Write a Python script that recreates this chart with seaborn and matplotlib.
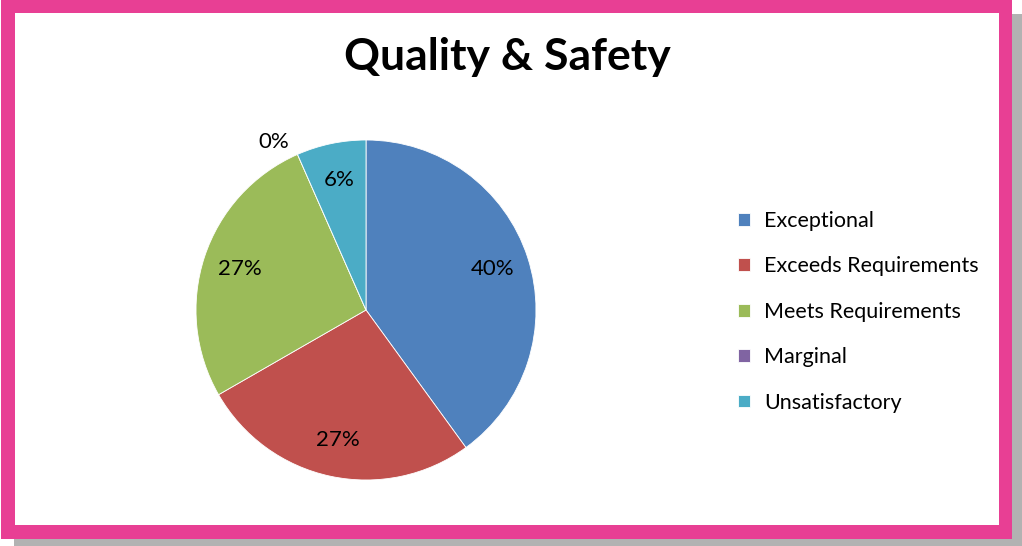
import matplotlib
matplotlib.use("Agg")
import matplotlib.pyplot as plt
import matplotlib.patches as mpatches
import numpy as np
import seaborn as sns

# Quality & Safety rating shares (percent of staff)
categories = ["Exceptional", "Exceeds Requirements", "Meets Requirements",
              "Marginal", "Unsatisfactory"]
shares = [40, 26.7, 26.7, 0, 6.6]
pct_labels = ["40%", "27%", "27%", "0%", "6%"]
colors = ["#4F81BD", "#C0504D", "#9BBB59", "#8064A2", "#4BACC6"]

W, H = 1022, 546


def fx(px):
    return px / W


def fy(py):
    return (H - py) / H


def frame_rect(fig, x0, y0, x1, y1, color, z):
    # rectangle given in pixel coords (origin top left)
    r = mpatches.Rectangle((fx(x0), fy(y1)), fx(x1) - fx(x0), fy(y0) - fy(y1),
                           transform=fig.transFigure, facecolor=color,
                           edgecolor="none", zorder=z)
    fig.patches.append(r)


def main():
    sns.set_theme(style="white")
    plt.rcParams["font.family"] = ["Lato", "DejaVu Sans"]
    plt.rcParams["text.color"] = "black"
    palette = sns.color_palette(colors)

    fig = plt.figure(figsize=(W / 100, H / 100), dpi=100)
    fig.patch.set_facecolor("white")

    # border: grey shadow, pink frame, white inner panel
    frame_rect(fig, 14, 14, 1022, 546, "#B2B2B2", -3)
    frame_rect(fig, 1, 0, 1012, 539, "#E83F94", -2)
    frame_rect(fig, 15, 13, 999, 525, "white", -1)

    cx, cy, rad = 366, 310, 170
    half = 1.25 * rad
    ax = fig.add_axes([fx(cx - half), fy(cy + half), 2 * half / W, 2 * half / H])

    wedges, _ = ax.pie(shares, colors=palette, startangle=90, counterclock=False,
                       wedgeprops=dict(edgecolor="white", linewidth=0.6))
    ax.set_xlim(-1.25, 1.25)
    ax.set_ylim(-1.25, 1.25)
    ax.set_aspect("equal")
    ax.axis("off")

    # percentage labels inside the slices (the 0% one sits outside)
    for w, lab in zip(wedges, pct_labels):
        mid = np.deg2rad((w.theta1 + w.theta2) / 2)
        dist = 0.78 if w.theta2 - w.theta1 > 0.5 else 1.13
        if lab == "0%":
            mid = np.deg2rad(w.theta1 + 5)
        ax.text(dist * np.cos(mid), dist * np.sin(mid), lab, ha="center",
                va="center", fontsize=16, color="black")

    fig.text(fx(507), fy(57), "Quality & Safety", ha="center", va="center",
             fontsize=32, fontweight="bold", color="black")

    fig.legend(wedges, categories, loc="upper left",
               bbox_to_anchor=(fx(738), fy(211)), frameon=False,
               fontsize=15.5, handlelength=0.55, handleheight=0.55,
               handletextpad=0.65, labelspacing=1.18, borderpad=0,
               borderaxespad=0, labelcolor="black")

    fig.savefig("out.png", dpi=100)


if __name__ == "__main__":
    main()
